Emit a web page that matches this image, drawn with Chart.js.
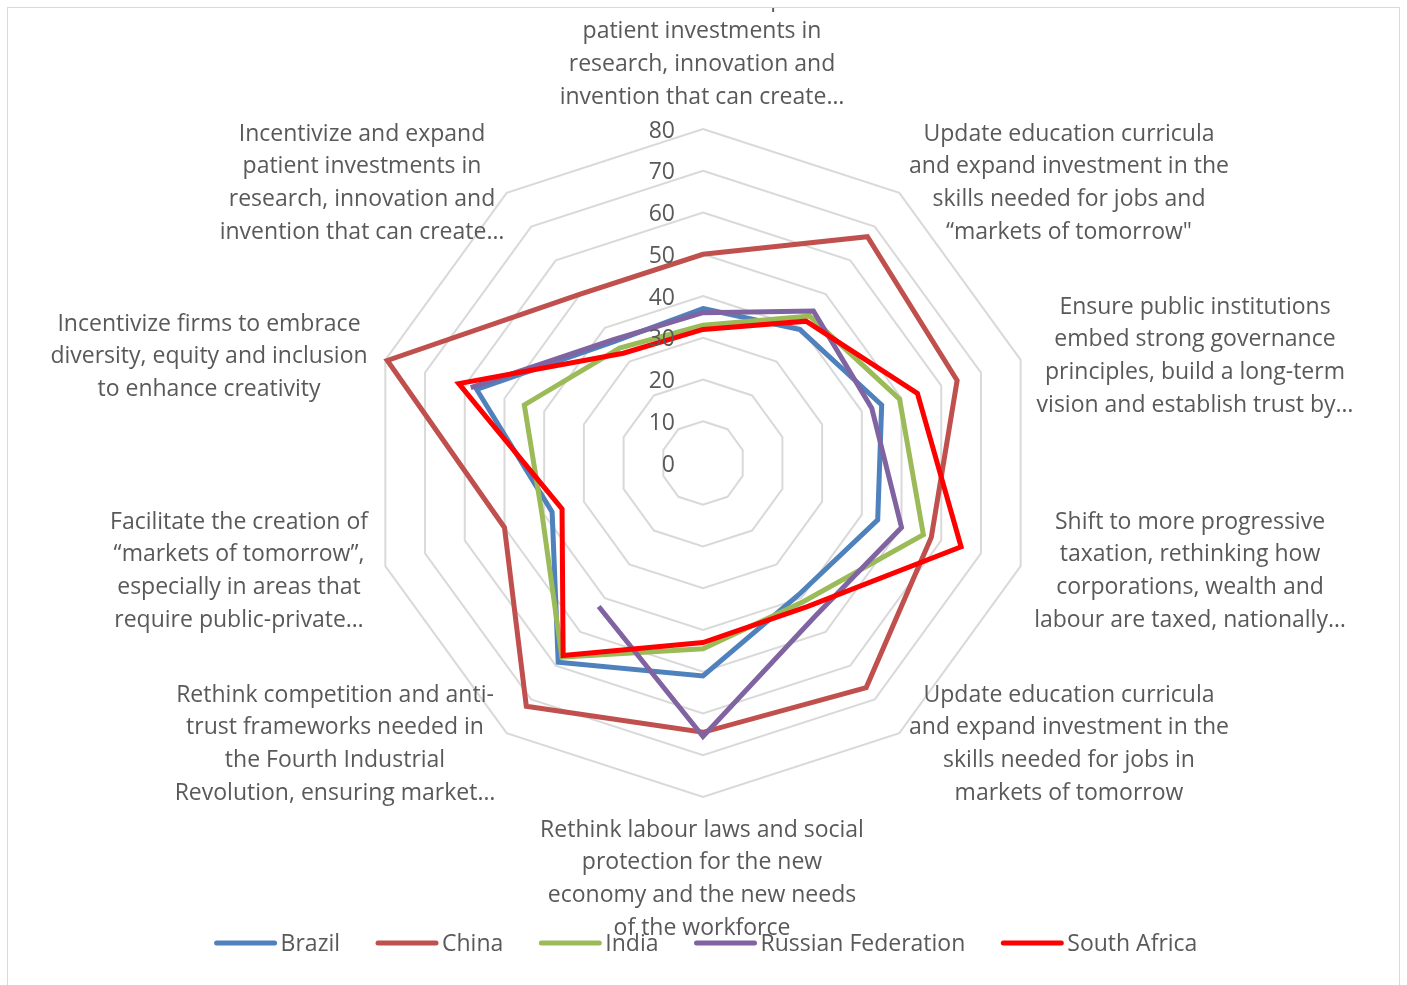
<!DOCTYPE html>
<html>
<head>
<meta charset="utf-8">
<script src="https://cdn.jsdelivr.net/npm/chart.js@4.4.1/dist/chart.umd.min.js"></script>
<style>
  html, body { margin: 0; padding: 0; background: #fff; }
  #frame { position: absolute; left: 7px; top: 7px; width: 1393px; height: 990px;
           border: 1px solid #d9d9d9; box-sizing: border-box; overflow: hidden; }
  #chart { position: absolute; left: 0; top: 0; }
</style>
</head>
<body>
<div id="frame"><canvas id="chart" width="1391" height="977"></canvas></div>
<script>
  const axisLabels = [
    ["Incentivize and expand", "patient investments in", "research, innovation and", "invention that can create…"],
    ["Update education curricula", "and expand investment in the", "skills needed for jobs and", "“markets of tomorrow\""],
    ["Ensure public institutions", "embed strong governance", "principles, build a long-term", "vision and establish trust by…"],
    ["Shift to more progressive", "taxation, rethinking how", "corporations, wealth and", "labour are taxed, nationally…"],
    ["Update education curricula", "and expand investment in the", "skills needed for jobs in", "markets of tomorrow"],
    ["Rethink labour laws and social", "protection for the new", "economy and the new needs", "of the workforce"],
    ["Rethink competition and anti-", "trust frameworks needed in", "the Fourth Industrial", "Revolution, ensuring market…"],
    ["Facilitate the creation of", "“markets of tomorrow”,", "especially in areas that", "require public-private…"],
    ["Incentivize firms to embrace", "diversity, equity and inclusion", "to enhance creativity"],
    ["Incentivize and expand", "patient investments in", "research, innovation and", "invention that can create…"]
  ];

  const seriesNames = ["Brazil", "China", "India", "Russian Federation", "South Africa"];
  const brazil  = [37, 39.5, 45, 44, 39, 51, 59, 38, 57, 36];
  const china   = [50, 67, 64, 57.5, 66.5, 64.5, 72, 50, 79.5, 50];
  const india   = [33, 43.5, 49.5, 55.5, 41, 44.5, 57.5, 40.5, 45, 34];
  const russia  = [36, 45, 42.5, 50, 45.5, 65.5, 42.5, null, 58.5, 36.5];
  const safrica = [32, 42, 54, 65, 42.5, 43, 57, 35.5, 61.5, 32.5];
  const tickValues = [0, 10, 20, 30, 40, 50, 60, 70, 80];

  const colors = ["#4f81bd", "#c0504d", "#9bbb59", "#8064a2", "#ff0000"];
  const FONT = "'Open Sans', Lato, sans-serif";
  const TEXT = "#595959";
  const LINE_H = 32.8;

  // label block placement relative to the radar centre: [dx, y of first line]
  const labelPlace = [
    [-1, -464], [366, -329], [492, -156], [487, 59], [366, 232],
    [-1, 367], [-368, 232], [-464, 59], [-494, -139], [-341, -329]
  ];

  const textPlugin = {
    id: "textPlugin",
    afterDatasetsDraw(chart) {
      const ctx = chart.ctx;
      const r = chart.scales.r;
      const cx = r.xCenter, cy = r.yCenter;
      ctx.save();
      ctx.fillStyle = TEXT;
      ctx.font = "23px " + FONT;
      ctx.textBaseline = "middle";

      // tick labels, left of the top axis
      ctx.textAlign = "right";
      tickValues.forEach(v => {
        ctx.fillText(String(v), cx - 28, cy - r.getDistanceFromCenterForValue(v) + 2);
      });

      // category labels
      ctx.textAlign = "center";
      axisLabels.forEach((lines, i) => {
        const p = labelPlace[i];
        lines.forEach((ln, k) => ctx.fillText(ln, cx + p[0], cy + p[1] + k * LINE_H));
      });

      // legend
      const sw = 62, gapIn = 4, gapOut = 36;
      const widths = seriesNames.map(n => ctx.measureText(n).width);
      const total = widths.reduce((a, w) => a + sw + gapIn + w, 0) + gapOut * (seriesNames.length - 1);
      let x = cx + 3 - total / 2;
      const ly = cy + 480;
      ctx.textAlign = "left";
      seriesNames.forEach((n, i) => {
        ctx.strokeStyle = colors[i];
        ctx.lineWidth = 5;
        ctx.lineCap = "round";
        ctx.beginPath();
        ctx.moveTo(x + 2, ly);
        ctx.lineTo(x + sw - 2, ly);
        ctx.stroke();
        x += sw + gapIn;
        ctx.fillStyle = TEXT;
        ctx.fillText(n, x, ly + 1);
        x += widths[i] + gapOut;
      });
      ctx.restore();
    }
  };

  const seriesData = [brazil, china, india, russia, safrica];

  new Chart(document.getElementById("chart").getContext("2d"), {
    type: "radar",
    data: {
      labels: axisLabels,
      datasets: seriesData.map((d, i) => ({
        label: seriesNames[i],
        data: d,
        borderColor: colors[i],
        backgroundColor: "transparent",
        borderWidth: 5,
        pointRadius: 0,
        fill: false,
        spanGaps: false,
        order: seriesData.length - i
      }))
    },
    options: {
      responsive: false,
      animation: false,
      layout: { padding: { left: 361, right: 362, top: 121, bottom: 188 } },
      plugins: { legend: { display: false }, tooltip: { enabled: false } },
      scales: {
        r: {
          min: 0,
          max: 80,
          ticks: { stepSize: 10, display: false },
          grid: { color: "#d9d9d9", lineWidth: 2 },
          angleLines: { display: false },
          pointLabels: { display: false }
        }
      }
    },
    plugins: [textPlugin]
  });
</script>
</body>
</html>
